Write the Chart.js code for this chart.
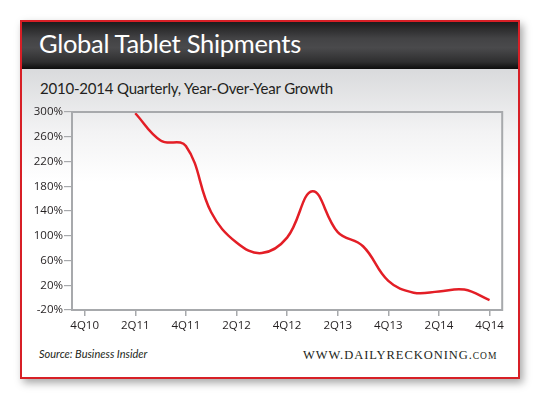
<!DOCTYPE html>
<html>
<head>
<meta charset="utf-8">
<script src="https://cdn.jsdelivr.net/npm/chart.js@4"></script>
<style>
  body { margin: 0; background: #fff; width: 540px; height: 399px; overflow: hidden; position: relative; }
  #karta {
    position: absolute; left: 20px; top: 20px; width: 496px; height: 355px;
    border: 2px solid #d71f26;
    background: linear-gradient(#dadbdd 49px, #f3f3f4 110px, #fff 160px);
    box-shadow: 3px 4px 8px rgba(0,0,0,0.35);
  }
  #hlavicka {
    position: absolute; left: 0; top: 0; width: 496px; height: 47px;
    background: linear-gradient(#1c1c1d 0%, #434345 35%, #4a4a4c 55%, #2e2e2f 85%, #0d0d0d 100%);
  }
  #nadpis {
    position: absolute; left: 17px; top: 6px; color: #fff;
    font-family: Lato, sans-serif; font-size: 25.5px; letter-spacing: -0.3px; white-space: nowrap;
  }
  #podnadpis {
    position: absolute; left: 18px; top: 57px; color: #231f20;
    font-family: Lato, sans-serif; font-size: 15px; letter-spacing: -0.2px; white-space: nowrap;
  }
  #zdroj {
    position: absolute; left: 17px; top: 325px; color: #231f20;
    font-family: Lato, sans-serif; font-style: italic; font-size: 11px; white-space: nowrap;
  }
  #web {
    position: absolute; left: 281px; top: 326px; color: #231f20;
    font-family: "Liberation Serif", serif; font-size: 12.5px; letter-spacing: 0.95px; white-space: nowrap;
  }
  #web small { font-size: 9.5px; }
  #graf-obal { position: absolute; left: 22px; top: 104px; width: 485px; height: 234px; }
</style>
</head>
<body>
<div id="karta">
  <div id="hlavicka"><div id="nadpis">Global Tablet Shipments</div></div>
  <div id="podnadpis">2010-2014 Quarterly, Year-Over-Year Growth</div>
  <div id="zdroj">Source: Business Insider</div>
  <div id="web">WWW.DAILYRECKONING.<small>COM</small></div>
</div>
<div id="graf-obal"><canvas id="graf"></canvas></div>
<script>
// --- DATA ---
const ctvrtleti = ['4Q10', '1Q11', '2Q11', '3Q11', '4Q11', '1Q12', '2Q12', '3Q12', '4Q12',
                   '1Q13', '2Q13', '3Q13', '4Q13', '1Q14', '2Q14', '3Q14', '4Q14'];
const rustProcent = [null, null, 298, 254, 245, 138, 89, 72, 97, 172, 106, 83, 27, 8, 10, 13, -4];
const osaYMin = -20;
const osaYMax = 300;
const krokY = 40;

const barvaRamu = '#a7a9ac';

// ramecek kolem plochy grafu
const ramecek = {
    id: 'ramecek',
    afterDraw(chart) {
        const a = chart.chartArea;
        const c = chart.ctx;
        c.save();
        c.strokeStyle = barvaRamu;
        c.lineWidth = 2;
        c.strokeRect(a.left, a.top, a.right - a.left, a.bottom - a.top);
        c.restore();
    }
};

new Chart(document.getElementById('graf'), {
    type: 'line',
    data: {
        labels: ctvrtleti,
        datasets: [{
            data: rustProcent,
            borderColor: '#e31e26',
            borderWidth: 2.5,
            pointRadius: 0,
            tension: 0.4,
            fill: false
        }]
    },
    options: {
        responsive: true,
        maintainAspectRatio: false,
        animation: false,
        layout: { padding: { top: 8, right: 4 } },
        plugins: { legend: { display: false }, tooltip: { enabled: false } },
        scales: {
            x: {
                offset: true,
                afterFit: s => { s.height = 28; },
                border: { display: false },
                grid: { drawOnChartArea: false, tickLength: 6, tickColor: barvaRamu, lineWidth: 1.5, offset: false },
                ticks: {
                    autoSkip: false, maxRotation: 0, padding: 3,
                    color: '#231f20', font: { family: '"Open Sans"', size: 11.5 },
                    callback: (v, i) => i % 2 === 0 ? ctvrtleti[i] : null
                }
            },
            y: {
                min: osaYMin, max: osaYMax,
                afterFit: s => { s.width = 50; },
                border: { display: false },
                grid: {
                    tickLength: 8, tickColor: barvaRamu, lineWidth: 1.2,
                    color: ctx => ctx.tick && ctx.tick.value === 0 ? '#8e9093' : 'rgba(0,0,0,0)'
                },
                ticks: {
                    stepSize: krokY, padding: 1,
                    color: '#231f20', font: { family: '"Open Sans"', size: 11.5 },
                    callback: v => v + '%'
                }
            }
        }
    },
    plugins: [ramecek]
});
</script>
</body>
</html>
